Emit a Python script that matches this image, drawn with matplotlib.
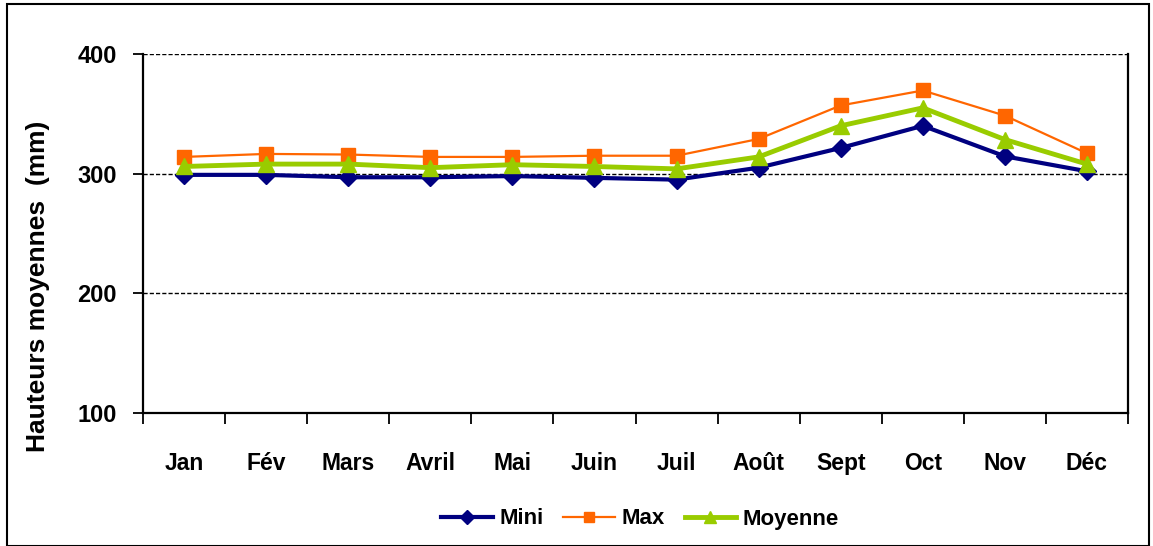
import matplotlib.pyplot as plt
import numpy as np
from matplotlib.patches import Rectangle

plt.rcParams["font.family"] = ["Liberation Sans", "DejaVu Sans"]
plt.rcParams["font.weight"] = "bold"

mois = ["Jan", "Fév", "Mars", "Avril", "Mai", "Juin", "Juil", "Août", "Sept", "Oct", "Nov", "Déc"]
mini = [299, 299, 297, 297, 298, 296.5, 295, 305, 321.5, 340, 314.5, 302]
maxi = [314, 316.5, 316, 314, 314, 315, 315, 329, 357, 369.5, 348.5, 317]
moyenne = [306, 308, 308, 305, 307.5, 306, 304, 314, 340, 355, 328.5, 308]

fig = plt.figure(figsize=(11.53, 5.46), dpi=100)
ax = fig.add_axes([143 / 1153, 1 - 413 / 546, 985 / 1153, 359 / 546])

x = np.arange(len(mois))
ax.plot(x, mini, color="#000080", lw=3, marker="D", ms=9, label="Mini", zorder=3)
ax.plot(x, maxi, color="#FF6600", lw=1.6, marker="s", ms=10, label="Max", zorder=4)
ax.plot(x, moyenne, color="#99CC00", lw=3.5, marker="^", ms=12, label="Moyenne", zorder=5)

ax.set_xlim(-0.5, len(mois) - 0.5)
ax.set_ylim(100, 400)
ax.set_yticks([100, 200, 300, 400])
for v in [200, 300, 400]:
    ax.axhline(v, color="black", lw=1, ls=(0, (3, 1.5)), zorder=1)

ax.set_xticks(np.arange(-0.5, len(mois)))
ax.set_xticklabels([])
ax.set_xticks(x, minor=True)
ax.set_xticklabels(mois, minor=True, fontsize=16.5, fontweight="bold")
ax.tick_params(axis="x", which="major", length=8, width=1.3, direction="out")
ax.tick_params(axis="x", which="minor", length=0, pad=28)
ax.tick_params(axis="y", length=7, width=1.3, direction="out", labelsize=17, pad=12)

ax.spines["top"].set_visible(False)
for s in ["left", "bottom", "right"]:
    ax.spines[s].set_linewidth(1.6)

fig.text(38 / 1153, 1 - 286 / 546, "Hauteurs moyennes  (mm)", rotation=90,
         ha="center", va="center", fontsize=19, fontweight="bold")

fig.legend(loc="center", bbox_to_anchor=(640 / 1153, 1 - 519 / 546), ncol=3,
           frameon=False, fontsize=16, handlelength=2.3, columnspacing=0.9,
           handletextpad=0.3, markerscale=0.75)

fig.patches.append(Rectangle((7 / 1153, 0), 1142 / 1153, 542 / 546, transform=fig.transFigure,
                             fill=False, edgecolor="black", lw=1.5))

fig.savefig("out.png", dpi=100)
